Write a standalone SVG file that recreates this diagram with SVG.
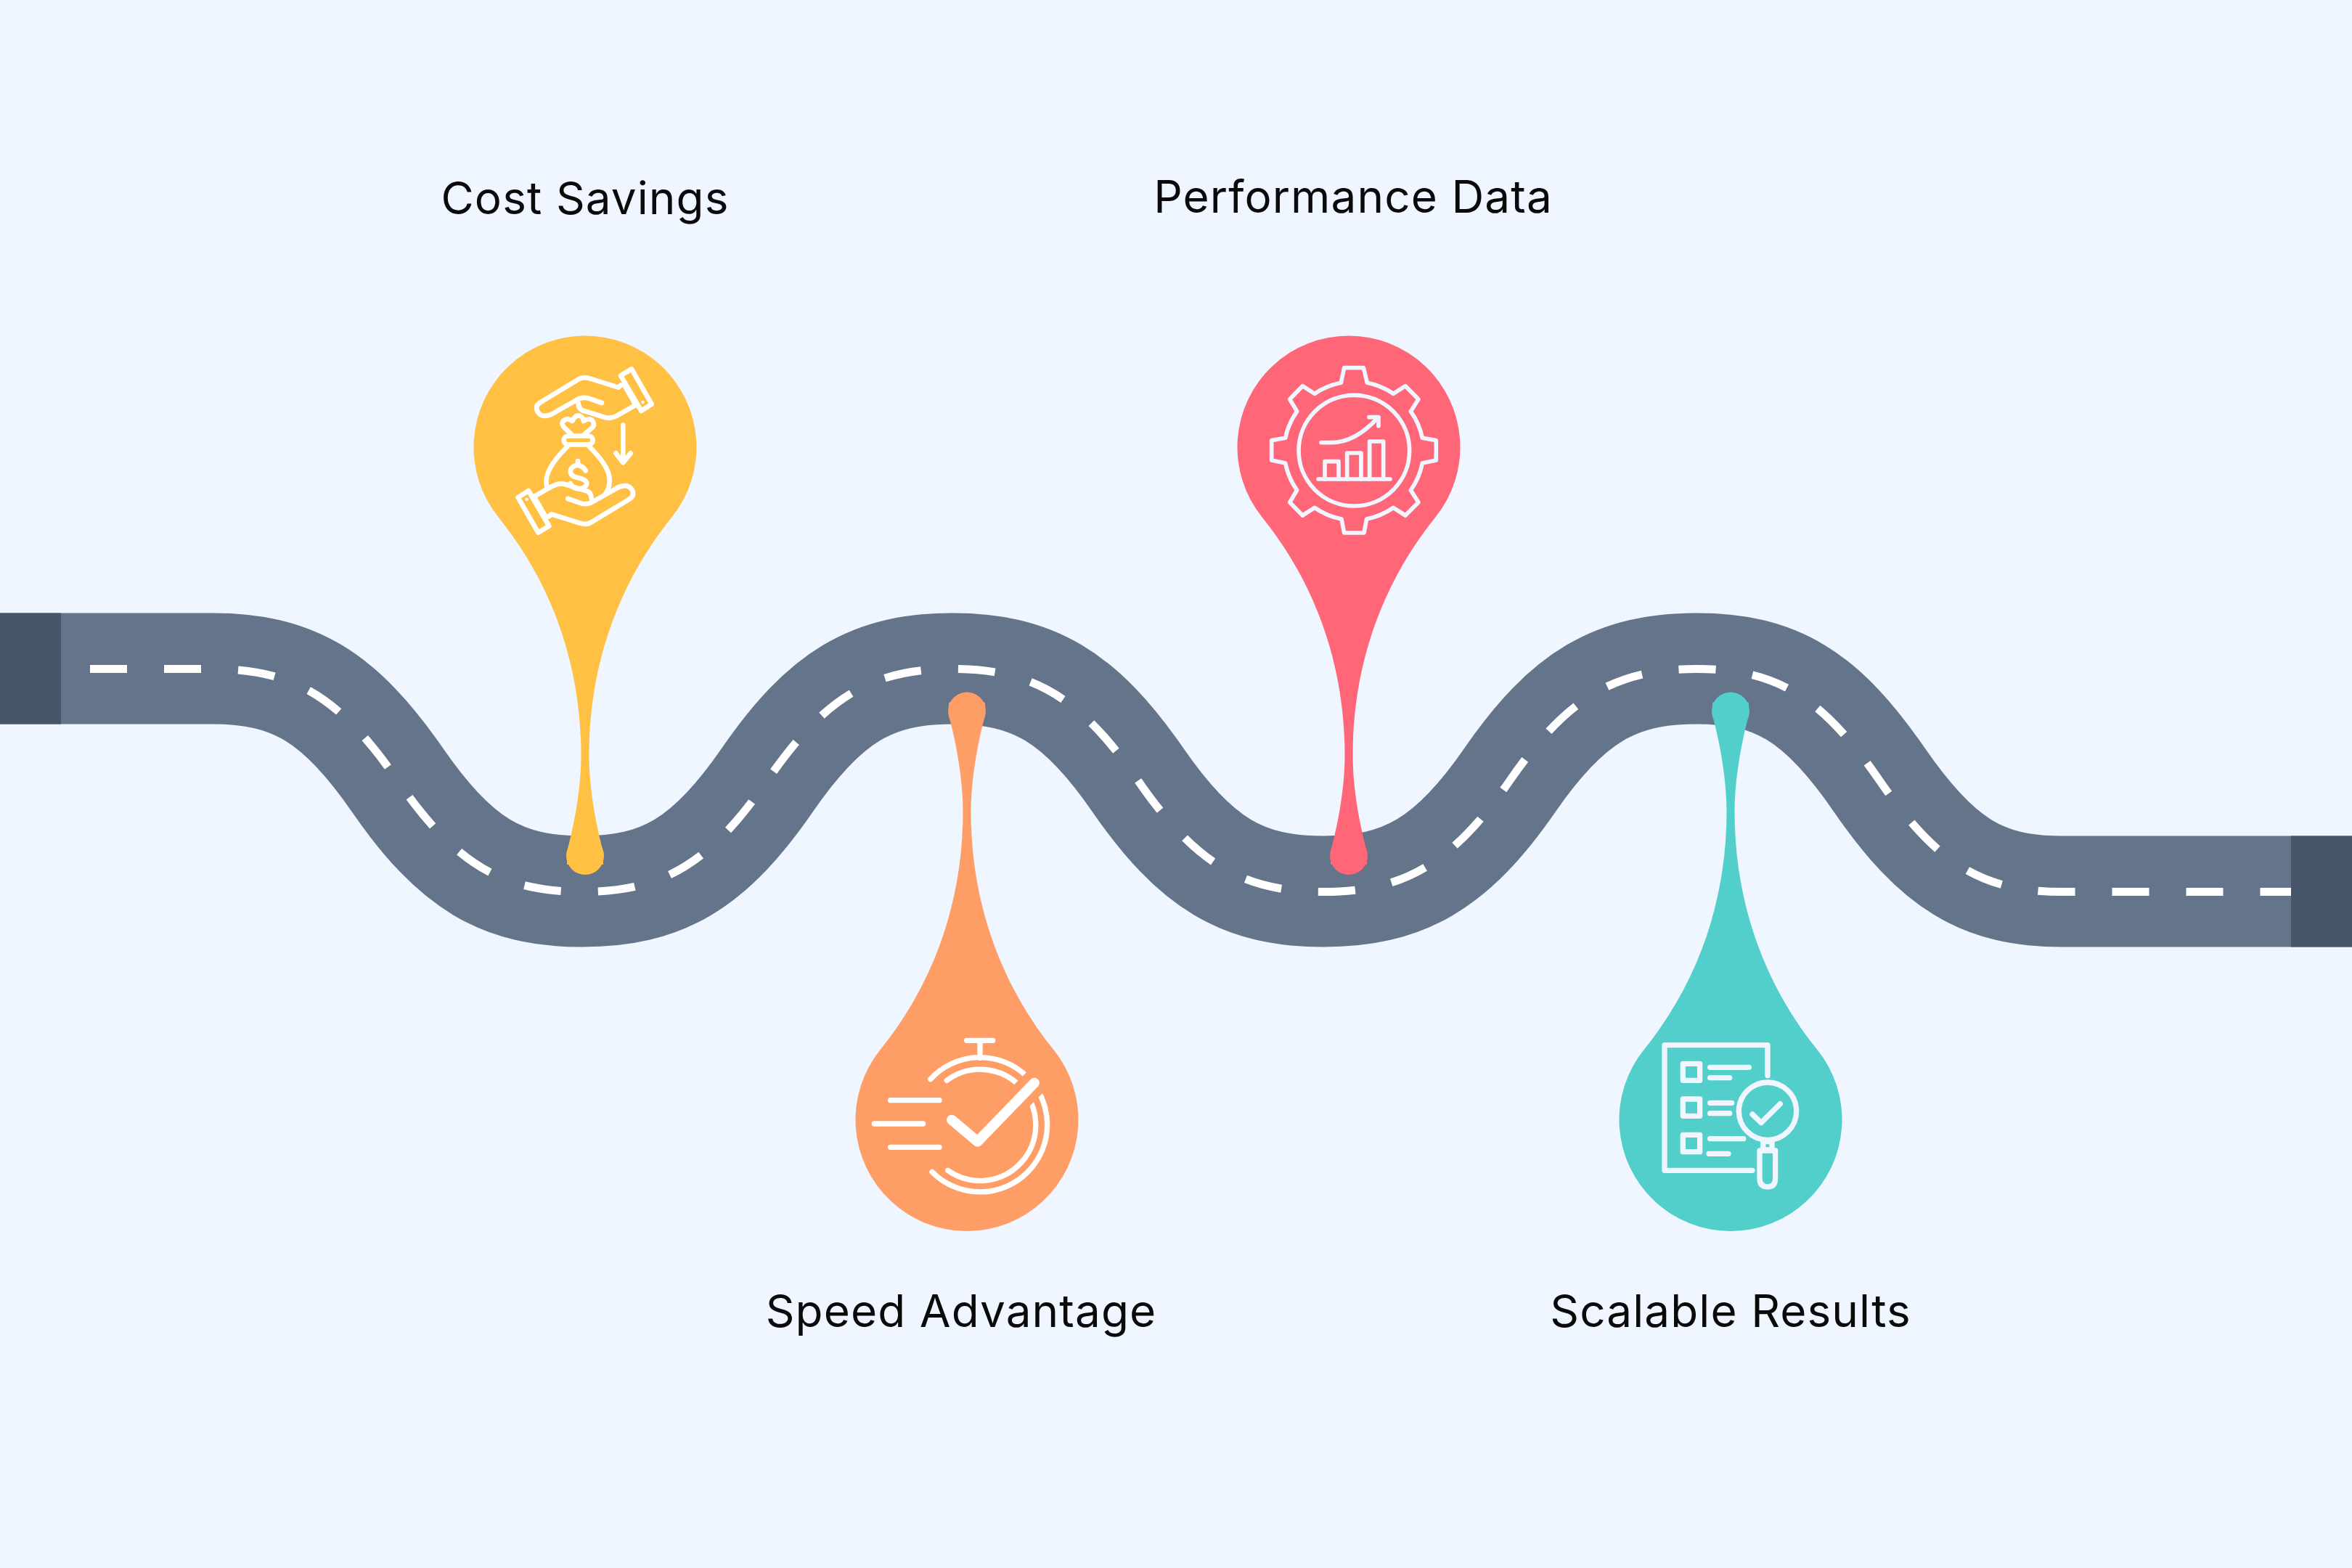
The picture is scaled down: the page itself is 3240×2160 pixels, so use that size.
<svg xmlns="http://www.w3.org/2000/svg" width="3240" height="2160" viewBox="0 0 3240 2160">
<style>
.lbl{font-family:Inter,"Liberation Sans",sans-serif;font-size:62px;fill:#0a0a0a;text-anchor:middle;letter-spacing:1.1px}
.ic{fill:none;stroke:#fff;stroke-linecap:round;stroke-linejoin:round}
.il{fill:none;stroke:#eff6ff;stroke-linecap:round;stroke-linejoin:round}
</style>
<defs>
<path id="way" d="M0,921H293C403,921 467.5,958.5 547.5,1074.5C627.5,1190.5 692,1228 802,1228C912,1228 977,1190.5 1057,1074.5C1137,958.5 1202,921 1312,921C1422,921 1487.5,958.5 1567.5,1074.5C1647.5,1190.5 1713,1228 1823,1228C1933,1228 2000,1190.5 2080,1074.5C2160,958.5 2227,921 2337,921C2447,921 2509,958.5 2589,1074.5C2669,1190.5 2731,1228 2841,1228H3240"/>
<g id="pin">
<path d="M-119,97A153.5,153.5 0 1 1 119,97C40,195 5.5,310 5.5,424C5.5,470 15,520 25,557L25,575L-25,575L-25,557C-15,520 -5.5,470 -5.5,424C-5.5,310 -40,195 -119,97Z"/>
<circle cx="0" cy="563" r="26"/>
</g>
<g id="hand">
<path d="M705,272L695,281L580,245Q550,235 530,248L370,345Q352,358 360,378Q372,402 398,398Q418,396 440,380L520,335Q540,320 570,325L627,345"/>
<path d="M530,345Q530,375 560,380L640,405Q665,412 695,395L765,355"/>
<path d="M718,268L768,355"/>
<path d="M705,232L750,205L833,350L790,378Z"/>
<circle cx="797" cy="342" r="7" fill="#fff" stroke="none"/>
</g>
</defs>
<rect id="background" width="3240" height="2160" fill="#eff6ff"/>
<g id="connectors">
<use id="road" href="#way" fill="none" stroke="#64748b" stroke-width="153"/>
<use id="lane" href="#way" y="0.5" fill="none" stroke="#fff" stroke-width="11" stroke-dasharray="51 51" stroke-dashoffset="-22"/>
<rect id="road-start" x="0" y="844.5" width="84" height="153" fill="#475569"/>
<rect id="road-end" x="3156" y="1151.5" width="84" height="153" fill="#475569"/>
</g>
<g id="node-cost-savings">
<use href="#pin" x="806" y="616" fill="#ffc043"/>
<g transform="translate(620,440) scale(.33333)">
<g class="ic" stroke-width="20">
<use href="#hand"/>
<use href="#hand" transform="rotate(180 557 543)"/>
<path d="M505,478L470,445Q455,425 475,415Q490,408 505,420Q515,398 530,397Q548,400 552,420Q570,408 585,415Q600,430 590,445L552,478"/>
<rect x="470" y="482" width="120" height="35" rx="17"/>
<path d="M485,525Q410,600 400,650Q395,670 400,690"/>
<path d="M575,525Q650,600 658,650Q665,690 640,725"/>
<path d="M560,625Q545,600 520,603Q497,610 497,630Q500,650 530,655Q565,662 565,680Q560,698 530,700Q505,698 497,678"/>
<path d="M528,585V600"/>
<path d="M715,437V590M685,553L715,592L746,553"/>
</g></g>
<text class="lbl" x="806" y="295">Cost Savings</text>
</g>
<g id="node-speed-advantage">
<use href="#pin" transform="translate(1332,1542.5) scale(1,-1)" fill="#ff9d66"/>
<g transform="translate(1160,1400) scale(.33333)">
<g class="ic" stroke-width="22">
<path d="M570,172V100M515,100H623"/>
<path d="M365,260A278,278 0 1 1 372,643"/>
<path d="M433,265A230,230 0 1 1 437,637"/>
<path d="M200,347H402M133,444H335M200,541H402"/>
</g>
<path d="M660,410L800,270" fill="none" stroke="#ff9d66" stroke-width="108" stroke-linecap="round"/>
<path class="ic" d="M453,428L560,518L795,275" stroke-width="42"/>
</g>
<text class="lbl" x="1324" y="1828">Speed Advantage</text>
</g>
<g id="node-performance-data">
<use href="#pin" x="1858" y="616" fill="#ff6678"/>
<g transform="translate(1680,440) scale(.33333)">
<g class="il" stroke-width="17">
<path d="M515,200H595L610,262A290,290 0 0 1 718,307L768,275L822,330L790,380A290,290 0 0 1 838,490L895,500V582L838,594A290,290 0 0 1 790,706L822,756L768,810L718,778A290,290 0 0 1 608,825L597,882H515L504,825A290,290 0 0 1 393,778L343,810L290,756L320,706A290,290 0 0 1 272,594L215,582V500L272,490A290,290 0 0 1 320,380L290,330L343,275L393,307A290,290 0 0 1 502,262Z"/>
<circle cx="556" cy="542" r="229"/>
<path d="M408,660H705"/>
<path d="M435,660V587H492V660M527,660V552H585V660M620,660V504H677V660"/>
<path d="M420,509H460Q560,510 655,405"/>
<path d="M618,404H657L657,440"/>
</g></g>
<text class="lbl" x="1864" y="293">Performance Data</text>
</g>
<g id="node-scalable-results">
<use href="#pin" transform="translate(2384,1542.5) scale(1,-1)" fill="#52cfca"/>
<g transform="translate(2220,1400) scale(.33333)">
<g class="il" stroke-width="22">
<path d="M645,245V119H219V637H582"/>
<rect x="295" y="196" width="70" height="69"/>
<rect x="295" y="342" width="70" height="70"/>
<rect x="295" y="490" width="70" height="70"/>
<path d="M407,211H568M407,254H488M407,358H497M407,401H488M407,506H545M402,568H483"/>
<circle cx="645" cy="392" r="119"/>
<path d="M582,405L618,440L697,362"/>
<rect x="626" y="518" width="37" height="34"/>
<path d="M612,555H677V670Q677,705 645,705Q612,705 612,670Z"/>
</g></g>
<text class="lbl" x="2384" y="1828">Scalable Results</text>
</g>
</svg>
